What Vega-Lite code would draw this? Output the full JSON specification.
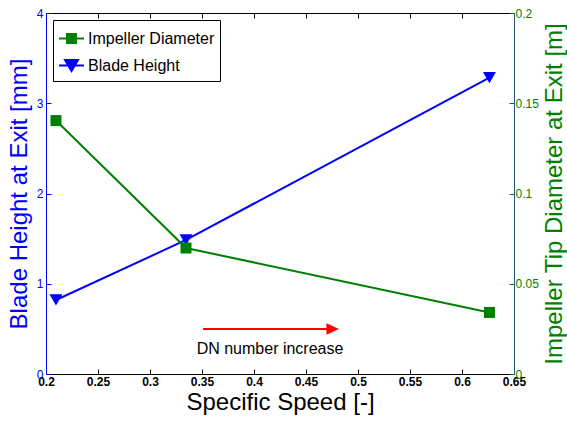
{
  "$schema": "https://vega.github.io/schema/vega-lite/v6.json",
  "width": 468,
  "height": 361,
  "autosize": {"type": "none"},
  "padding": {"left": 46, "top": 13, "right": 53, "bottom": 47},
  "background": "white",
  "config": {
    "view": {"stroke": null},
    "font": "Liberation Sans",
    "axis": {"grid": false, "domainWidth": 1, "tickWidth": 1, "labelFont": "Liberation Sans", "titleFont": "Liberation Sans"}
  },
  "datasets": {
    "blade": [{"s": 0.2096, "v": 0.82}, {"s": 0.3346, "v": 1.485}, {"s": 0.6264, "v": 3.285}],
    "imp": [{"s": 0.2096, "v": 0.1404}, {"s": 0.3346, "v": 0.0698}, {"s": 0.6264, "v": 0.0341}],
    "arrow": [{"s": 0.351, "s2": 0.476, "v": 0.5}],
    "head": [{"s": 0.4817, "v": 0.5}],
    "note": [{"s": 0.4154, "v": 0.277, "label": "DN number increase"}],
    "leg": [{"series": "Impeller Diameter", "s": 1.0, "v": 1}, {"series": "Blade Height", "s": 1.0, "v": 1}]
  },
  "layer": [
    {
      "encoding": {
        "x": {
          "field": "s", "type": "quantitative",
          "scale": {"domain": [0.2, 0.65], "nice": false, "zero": false},
          "axis": {
            "orient": "bottom", "values": [0.2, 0.25, 0.3, 0.35, 0.4, 0.45, 0.5, 0.55, 0.6, 0.65],
            "labelExpr": "datum.value + ''", "title": "Specific Speed [-]", "titleFontSize": 24,
            "titleFontWeight": "normal", "titleColor": "black", "titlePadding": 3,
            "labelFontSize": 12, "labelFontWeight": "bold", "labelColor": "black", "labelPadding": 7,
            "tickSize": -5, "tickColor": "black", "domainColor": "black", "labelFlush": false, "labelOverlap": false
          }
        },
        "y": {
          "field": "v", "type": "quantitative",
          "scale": {"domain": [0, 4], "nice": false, "zero": false},
          "axis": {
            "orient": "left", "values": [0, 1, 2, 3, 4], "title": "Blade Height at Exit [mm]",
            "titleFontSize": 24, "titleFontWeight": "normal", "titleColor": "#0000ff", "titlePadding": 5,
            "labelColor": "#0000ff", "labelFontSize": 12, "labelPadding": 8,
            "tickColor": "#0000ff", "domainColor": "#0000ff", "tickSize": -5, "labelFlush": false, "labelOverlap": false
          }
        }
      },
      "layer": [
        {"data": {"name": "blade"}, "mark": {"type": "line", "color": "#0000ff", "strokeWidth": 2}},
        {"data": {"name": "blade"}, "mark": {"type": "point", "shape": "triangle-down", "size": 169, "filled": true, "color": "#0000ff", "opacity": 1}},
        {"data": {"name": "arrow"}, "mark": {"type": "rule", "color": "#ff0000", "strokeWidth": 2}, "encoding": {"x2": {"field": "s2"}}},
        {"data": {"name": "head"}, "mark": {"type": "point", "shape": "M0,0L-1,-0.46L-1,0.46Z", "size": 625, "filled": true, "color": "#ff0000", "opacity": 1}},
        {"data": {"name": "note"}, "mark": {"type": "text", "fontSize": 16, "color": "black", "align": "center", "baseline": "middle", "font": "Liberation Sans"}, "encoding": {"text": {"field": "label"}}},
        {
          "data": {"name": "leg"},
          "mark": {"type": "point", "filled": true, "clip": true, "strokeWidth": 2},
          "encoding": {
            "fill": {"field": "series", "type": "nominal", "scale": {"domain": ["Impeller Diameter", "Blade Height"], "range": ["#008000", "#0000ff"]},
              "legend": {"orient": "top-left", "offset": 7, "title": null, "padding": 5, "rowPadding": 5, "strokeColor": "black", "fillColor": "white", "symbolSize": 625, "symbolStrokeWidth": 2, "symbolOpacity": 1, "labelFont": "Liberation Sans", "labelFontSize": 16, "labelColor": "black", "labelOffset": 3, "labelLimit": 300}},
            "stroke": {"field": "series", "type": "nominal", "scale": {"domain": ["Impeller Diameter", "Blade Height"], "range": ["#008000", "#0000ff"]},
              "legend": {"orient": "top-left", "offset": 7, "title": null, "padding": 5, "rowPadding": 5, "strokeColor": "black", "fillColor": "white", "symbolSize": 625, "symbolStrokeWidth": 2, "symbolOpacity": 1, "labelFont": "Liberation Sans", "labelFontSize": 16, "labelColor": "black", "labelOffset": 3, "labelLimit": 300}},
            "shape": {"field": "series", "type": "nominal", "scale": {"domain": ["Impeller Diameter", "Blade Height"], "range": ["M-1,0H1M-0.36,-0.36H0.36V0.36H-0.36Z", "M-1,0H1M-0.52,-0.45H0.52L0,0.45Z"]},
              "legend": {"orient": "top-left", "offset": 7, "title": null, "padding": 5, "rowPadding": 5, "strokeColor": "black", "fillColor": "white", "symbolSize": 625, "symbolStrokeWidth": 2, "symbolOpacity": 1, "labelFont": "Liberation Sans", "labelFontSize": 16, "labelColor": "black", "labelOffset": 3, "labelLimit": 300}}
          }
        }
      ]
    },
    {
      "data": {"name": "imp"},
      "encoding": {
        "x": {
          "field": "s", "type": "quantitative",
          "scale": {"domain": [0.2, 0.65], "nice": false, "zero": false},
          "axis": {"orient": "top", "values": [0.2, 0.25, 0.3, 0.35, 0.4, 0.45, 0.5, 0.55, 0.6, 0.65], "labels": false, "title": null, "tickSize": -5, "tickColor": "black", "domainColor": "black"}
        },
        "y": {
          "field": "v", "type": "quantitative",
          "scale": {"domain": [0, 0.2], "nice": false, "zero": false},
          "axis": {
            "orient": "right", "values": [0, 0.05, 0.1, 0.15, 0.2], "labelExpr": "datum.value + ''",
            "title": "Impeller Tip Diameter at Exit [m]", "titleFontSize": 24, "titleFontWeight": "normal",
            "titleColor": "#008000", "titleAngle": 270, "titleBaseline": "top", "titlePadding": 4,
            "labelColor": "#008000", "labelFontSize": 12, "labelPadding": 6,
            "tickColor": "#008000", "domainColor": "#1f5a7a", "tickSize": -5, "labelFlush": false, "labelOverlap": false
          }
        }
      },
      "layer": [
        {"mark": {"type": "line", "color": "#008000", "strokeWidth": 2}},
        {"mark": {"type": "point", "shape": "square", "size": 121, "filled": true, "color": "#008000", "opacity": 1}}
      ]
    }
  ],
  "resolve": {"scale": {"y": "independent"}, "axis": {"y": "independent", "x": "independent"}}
}
